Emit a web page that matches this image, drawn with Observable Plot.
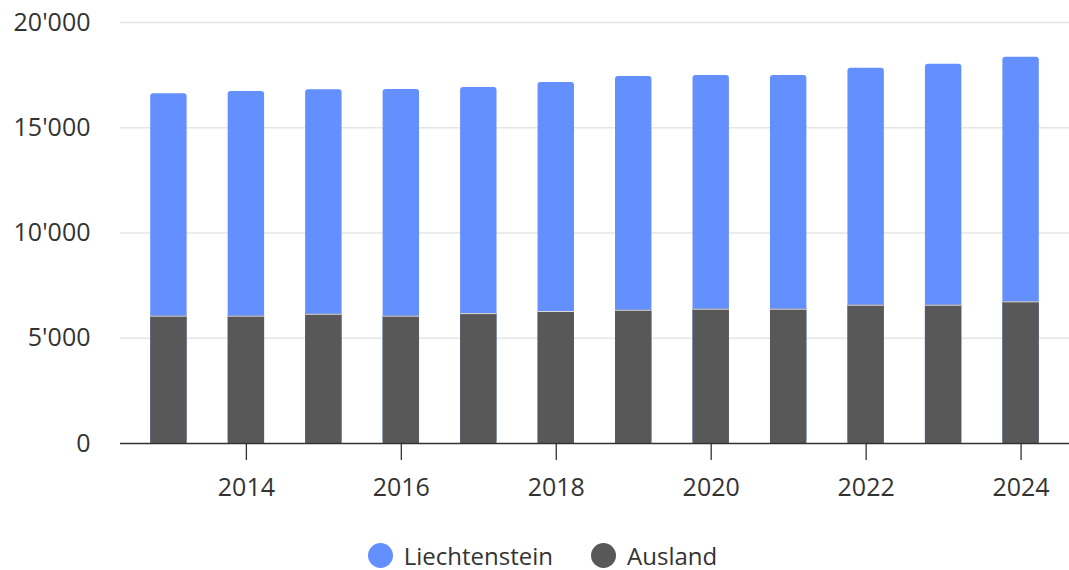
<!DOCTYPE html>
<html>
<head>
<meta charset="utf-8">
<script src="https://cdn.jsdelivr.net/npm/d3@7"></script>
<script src="https://cdn.jsdelivr.net/npm/@observablehq/plot@0.6"></script>
<style>
  html, body { margin: 0; padding: 0; background: #fff; }
  body { width: 1069px; height: 570px; overflow: hidden; font-family: "Open Sans", sans-serif; }
  #legend { display: flex; justify-content: center; align-items: center; gap: 38px; margin-top: 24px; margin-left: 16px; font-size: 24px; color: #333; }
  .item { display: flex; align-items: center; gap: 11px; }
  .dot { width: 25px; height: 25px; border-radius: 50%; display: inline-block; }
</style>
</head>
<body>
<div id="chart"></div>
<div id="legend"></div>
<script>
const years = [2013, 2014, 2015, 2016, 2017, 2018, 2019, 2020, 2021, 2022, 2023, 2024];
const liechtenstein = [10560, 10670, 10660, 10770, 10740, 10880, 11100, 11100, 11100, 11260, 11450, 11620];
const ausland = [6050, 6050, 6140, 6050, 6170, 6270, 6330, 6380, 6380, 6570, 6570, 6730];
const yTicks = [0, 5000, 10000, 15000, 20000];
const xTicks = [2014, 2016, 2018, 2020, 2022, 2024];
const seriesNames = ["Liechtenstein", "Ausland"];
const colors = ["#648fff", "#585858"];

const rows = years.map((year, i) => ({
  year,
  liechtenstein: liechtenstein[i],
  ausland: ausland[i],
  total: liechtenstein[i] + ausland[i]
}));

const fmt = v => d3.format(",")(v).replace(/,/g, "'");

const chart = Plot.plot({
  width: 1069,
  height: 515,
  marginLeft: 120,
  marginRight: 0,
  marginTop: 22,
  marginBottom: 72,
  style: { fontFamily: "Open Sans, sans-serif", fontSize: "25px", color: "#333", background: "#fff" },
  x: { type: "band", domain: years, paddingInner: 0.53, paddingOuter: 0.39, round: false, label: null },
  y: { domain: [0, 20000], label: null },
  marks: [
    Plot.ruleY(yTicks.filter(d => d > 0), { stroke: "#e6e6e6", strokeWidth: 1.3 }),
    Plot.barY(rows, { x: "year", y: "total", fill: colors[0], rx: 3 }),
    Plot.barY(rows, { x: "year", y: "ausland", fill: colors[1] }),
    Plot.tickY(rows, { x: "year", y: "ausland", stroke: "#fff", strokeWidth: 1, strokeOpacity: 0.8 }),
    Plot.ruleY([0], { stroke: "#333", strokeWidth: 1.3 }),
    Plot.axisY({ ticks: yTicks, tickSize: 0, tickPadding: 30, tickFormat: fmt, fill: "#333", fontSize: 25 }),
    Plot.axisX({ ticks: xTicks, tickSize: 17, tickPadding: 18, tickFormat: d => String(d), stroke: "#333", strokeWidth: 1.3, fill: "#333", fontSize: 25 })
  ]
});
document.getElementById("chart").appendChild(chart);

const legend = document.getElementById("legend");
seriesNames.forEach((name, i) => {
  const item = document.createElement("div");
  item.className = "item";
  const dot = document.createElement("span");
  dot.className = "dot";
  dot.style.background = colors[i];
  const label = document.createElement("span");
  label.textContent = name;
  item.appendChild(dot);
  item.appendChild(label);
  legend.appendChild(item);
});
</script>
</body>
</html>
